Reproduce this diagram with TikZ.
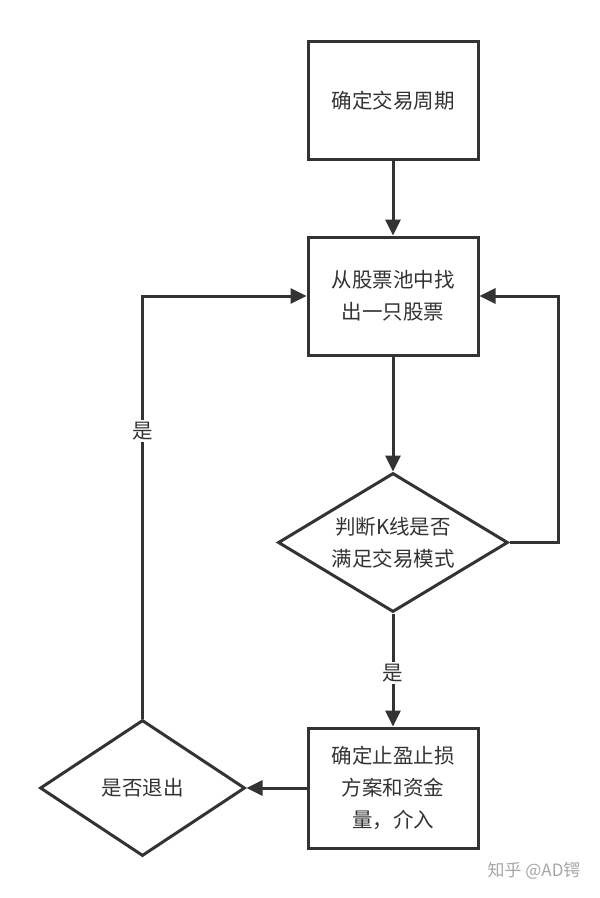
\documentclass[tikz,border=0pt]{standalone}
\usepackage{fontspec}
\setmainfont{Noto Sans CJK SC}
\usetikzlibrary{shapes.geometric,arrows.meta}
\definecolor{ink}{HTML}{333333}
\begin{document}
\begin{tikzpicture}[x=1pt,y=-1pt,
  every node/.style={font=\fontsize{20.5}{32}\selectfont,text=ink,align=center},
  boxn/.style={draw=ink,line width=3pt,minimum width=170pt,minimum height=118pt,inner sep=0pt},
  dia/.style={draw=ink,line width=3pt,shape=diamond,inner sep=0pt},
  arr/.style={draw=ink,line width=3pt,-{Triangle[length=16pt,width=15pt]}},
  ln/.style={draw=ink,line width=3pt},
  lbl/.style={fill=white,inner sep=2pt}]
\useasboundingbox (0,0) rectangle (600,898);
\node[boxn] (b1) at (393,100.5) {确定交易周期};
\node[boxn] (b2) at (393,296) {从股票池中找\\出一只股票};
\node[dia,minimum width=230pt,minimum height=139pt,aspect=1.65] (d1) at (393,542.5) {判断K线是否\\满足交易模式};
\node[boxn,minimum height=120pt] (b3) at (393,788) {确定止盈止损\\方案和资金\\量，介入};
\node[dia,minimum width=205pt,minimum height=136pt,aspect=1.5] (d2) at (142.5,788) {是否退出};
\node[font=\fontsize{17}{20}\selectfont,text=black!35] (wm) at (534,871) {知乎 @AD锷};
\draw[arr] (b1) -- (b2);
\draw[arr] (b2) -- (d1);
\draw[arr] (d1.east) -- ++(49,0) |- (b2.east);
\draw[arr] (d1.south) -- node[lbl,pos=0.53]{是} (b3.north);
\draw[arr] (b3.west) -- (d2.east);
\draw[arr] (d2.north) -- (d2.north |- b2.west) node[lbl,pos=0.68]{是} -- (b2.west);
\end{tikzpicture}
\end{document}
